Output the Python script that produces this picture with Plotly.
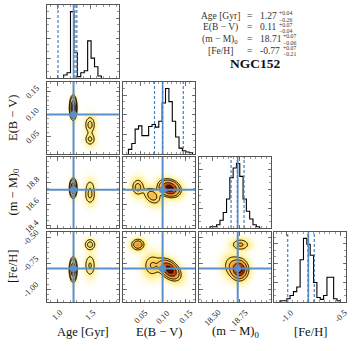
import numpy as np
import plotly.graph_objects as go

W, H = 357, 351

# ---------------- data ----------------
param_labels = ["Age [Gyr]", "E(B − V)", "(m − M)<sub>0</sub>", "[Fe/H]"]
param_ranges = [[0.848, 1.939], [0.012, 0.172], [18.38, 19.04], [-1.121, -0.449]]
truth_values = [1.250, 0.100, 18.735, -0.800]
quantile_values = [
    [1.015, 1.272, 1.300],
    [0.082, 0.100, 0.146],
    [18.674, 18.731, 18.793],
    [-0.993, -0.804, -0.745],
]

# 1-D histograms (relative heights)
age_hist_start, age_hist_width = 1.100, 0.052
age_hist_counts = [0.045, 0.08, 1.0, 0.38, 0.02, 0.08, 0.11, 0.56, 0.30, 0.17, 0.03]
ebv_hist_start, ebv_hist_width = 0.024, 0.0075
ebv_hist_counts = [0.07, 0.16, 0.38, 0.43, 0.28, 0.28, 0.42, 0.45, 0.41, 0.50,
                   0.78, 1.0, 0.80, 0.50, 0.26, 0.09, 0.05, 0.03, 0.02]
dm_hist_start, dm_hist_width = 18.481, 0.0303
dm_hist_counts = [0.02, 0.02, 0.05, 0.12, 0.24, 0.45, 0.78, 0.93, 1.0, 0.80,
                  0.45, 0.26, 0.14, 0.05, 0.02]
feh_hist_start, feh_hist_width = -1.065, 0.0313
feh_hist_counts = [0.02, 0.02, 0.05, 0.10, 0.16, 0.23, 0.65, 0.98, 0.89, 0.72,
                   0.30, 0.07, 0.04, 0.10, 0.38, 0.38, 0.05, 0.02]

# tick labels
age_xticks, age_xticklabels = [1.0, 1.5], ["1.0", "1.5"]
ebv_xticks, ebv_xticklabels = [0.05, 0.10, 0.15], ["0.05", "0.10", "0.15"]
dm_xticks, dm_xticklabels = [18.50, 18.75], ["18.50", "18.75"]
feh_xticks, feh_xticklabels = [-1.0, -0.5], ["-1.0", "-0.5"]
ebv_yticks, ebv_yticklabels = [0.05, 0.10, 0.15], ["0.05", "0.10", "0.15"]
dm_yticks, dm_yticklabels = [18.4, 18.6, 18.8], ["18.4", "18.6", "18.8"]
feh_yticks, feh_yticklabels = [-1.00, -0.75, -0.50], ["-1.00", "-0.75", "-0.50"]

# posterior modes seen in the 2-D panels (age, E(B-V), (m-M)0, [Fe/H])
mode_weight = [0.70, 0.12, 0.18]
mode_age = [1.245, 1.50, 1.50]
mode_age_sd = [0.025, 0.045, 0.045]
mode_ebv = [0.115, 0.045, 0.077]
mode_ebv_sd = [0.012, 0.008, 0.011]
mode_dm = [18.75, 18.76, 18.68]
mode_dm_sd = [0.040, 0.045, 0.045]
mode_feh = [-0.81, -0.57, -0.77]
mode_feh_sd = [0.050, 0.030, 0.060]
mode_corr_ebv_dm = [-0.2, 0.0, -0.3]
mode_corr_ebv_feh = [-0.45, 0.0, 0.0]

# summary text
summary_names = ["Age [Gyr]", "E(B − V)", "(m − M)<sub>0</sub>", "[Fe/H]"]
summary_values = ["1.27", "0.11", "18.71", "-0.77"]
summary_plus = ["+0.04", "+0.07", "+0.07", "+0.07"]
summary_minus = ["−0.26", "−0.04", "−0.06", "−0.21"]
cluster_name = "NGC152"

# ---------------- styling / geometry ----------------
SERIF = "Liberation Serif, DejaVu Serif, serif"
FRAME = "#555555"
TRUTH = "#5b8fc9"
QUANT = "#4a7ebf"
col_px = [(47, 119), (123, 195), (199, 271), (274, 346)]
row_px = [(5, 78), (82, 154), (157, 228), (232, 302)]
minor_dticks = [0.1, 0.01, 0.05, 0.05]

hists = [
    (age_hist_start, age_hist_width, age_hist_counts),
    (ebv_hist_start, ebv_hist_width, ebv_hist_counts),
    (dm_hist_start, dm_hist_width, dm_hist_counts),
    (feh_hist_start, feh_hist_width, feh_hist_counts),
]
xticks = [(age_xticks, age_xticklabels), (ebv_xticks, ebv_xticklabels),
          (dm_xticks, dm_xticklabels), (feh_xticks, feh_xticklabels)]
yticks = [None, (ebv_yticks, ebv_yticklabels), (dm_yticks, dm_yticklabels),
          (feh_yticks, feh_yticklabels)]

means = [mode_age, mode_ebv, mode_dm, mode_feh]
sds = [mode_age_sd, mode_ebv_sd, mode_dm_sd, mode_feh_sd]


def corr(i, j, m):
    pair = tuple(sorted((i, j)))
    if pair == (1, 2):
        return mode_corr_ebv_dm[m]
    if pair == (1, 3):
        return mode_corr_ebv_feh[m]
    return 0.0


def density(ix, iy, gx, gy):
    GX, GY = np.meshgrid(gx, gy)
    Z = np.zeros_like(GX)
    for m in range(len(mode_weight)):
        sx, sy = sds[ix][m], sds[iy][m]
        rho = corr(ix, iy, m)
        u = (GX - means[ix][m]) / sx
        v = (GY - means[iy][m]) / sy
        q = (u * u - 2 * rho * u * v + v * v) / (1 - rho * rho)
        Z += mode_weight[m] / (2 * np.pi * sx * sy * np.sqrt(1 - rho * rho)) * np.exp(-0.5 * q)
    return Z


def mass_levels(Z, fracs):
    flat = np.sort(Z.ravel())[::-1]
    cum = np.cumsum(flat)
    cum /= cum[-1]
    return sorted(flat[min(np.searchsorted(cum, f), len(flat) - 1)] for f in fracs)


LEVEL_FRACS = [1 - np.exp(-0.5 * s * s) for s in (0.5, 1.0, 1.5, 2.0)]
CSCALE = [[0.0, "#ffffff"], [0.04, "#fffbe2"], [0.12, "#fff3a8"], [0.26, "#ffe068"],
          [0.42, "#fbbd45"], [0.56, "#f0902a"], [0.70, "#d65a18"], [0.85, "#8f2806"],
          [1.0, "#300a00"]]


def px(x):
    return x / W


def py(y):
    return 1 - y / H


fig = go.Figure()
shapes, annotations, axes = [], [], {}

panels = [(r, c) for r in range(4) for c in range(r + 1)]
for k, (r, c) in enumerate(panels, start=1):
    xs = "x" if k == 1 else f"x{k}"
    ys = "y" if k == 1 else f"y{k}"
    xname = "xaxis" if k == 1 else f"xaxis{k}"
    yname = "yaxis" if k == 1 else f"yaxis{k}"
    xdom = [px(col_px[c][0]), px(col_px[c][1])]
    ydom = [py(row_px[r][1]), py(row_px[r][0])]

    base = dict(showline=True, linecolor=FRAME, linewidth=1, mirror="allticks",
                ticks="inside", ticklen=3.5, tickwidth=0.8, tickcolor=FRAME,
                showticklabels=False, showgrid=False, zeroline=False, fixedrange=True)
    xax = dict(base, domain=xdom, anchor=ys, range=param_ranges[c],
               tickmode="array", tickvals=xticks[c][0],
               minor=dict(ticks="inside", ticklen=2, tickwidth=0.6, tickcolor=FRAME,
                          dtick=minor_dticks[c], tick0=0))
    if r == c:
        start, width, counts = hists[c]
        edges = [start + width * i for i in range(len(counts) + 1)]
        hx = [edges[0]] + edges
        hy = [0] + list(counts) + [0]
        fig.add_trace(go.Scatter(x=hx, y=hy, mode="lines", line=dict(color="black", width=1.1, shape="hv"),
                                 xaxis=xs, yaxis=ys, hoverinfo="skip", showlegend=False))
        ymax = 1.1 * max(counts)
        yax = dict(base, domain=ydom, anchor=xs, range=[0, ymax], tickmode="array",
                   tickvals=[0.3, 0.6, 0.9],
                   minor=dict(ticks="inside", ticklen=2, tickwidth=0.6, tickcolor=FRAME, dtick=0.1, tick0=0))
        shapes.append(dict(type="line", xref=xs, yref=f"{ys} domain", x0=truth_values[c], x1=truth_values[c],
                           y0=0, y1=1, line=dict(color=TRUTH, width=1.6)))
        for q in quantile_values[c]:
            shapes.append(dict(type="line", xref=xs, yref=f"{ys} domain", x0=q, x1=q, y0=0, y1=1,
                               line=dict(color=QUANT, width=1.2, dash="3px,2px")))
    else:
        gx = np.linspace(param_ranges[c][0], param_ranges[c][1], 120)
        gy = np.linspace(param_ranges[r][0], param_ranges[r][1], 120)
        Z = density(c, r, gx, gy)
        Zn = (Z / Z.max()) ** 0.6
        fig.add_trace(go.Heatmap(x=gx, y=gy, z=Zn, colorscale=CSCALE, zmin=0, zmax=1, zsmooth="best",
                                 showscale=False, hoverinfo="skip", xaxis=xs, yaxis=ys))
        for L in mass_levels(Z, LEVEL_FRACS):
            fig.add_trace(go.Contour(x=gx, y=gy, z=Z, autocontour=False,
                                     contours=dict(start=L, end=L, size=1, coloring="none"),
                                     line=dict(color="black", width=1), showscale=False,
                                     hoverinfo="skip", xaxis=xs, yaxis=ys))
        yax = dict(base, domain=ydom, anchor=xs, range=param_ranges[r], tickmode="array",
                   tickvals=yticks[r][0],
                   minor=dict(ticks="inside", ticklen=2, tickwidth=0.6, tickcolor=FRAME,
                              dtick=minor_dticks[r], tick0=0))
        shapes.append(dict(type="line", xref=xs, yref=f"{ys} domain", x0=truth_values[c], x1=truth_values[c],
                           y0=0, y1=1, line=dict(color=TRUTH, width=2)))
        shapes.append(dict(type="line", xref=f"{xs} domain", yref=ys, y0=truth_values[r], y1=truth_values[r],
                           x0=0, x1=1, line=dict(color=TRUTH, width=2)))
        fig.add_trace(go.Scatter(x=[truth_values[c]], y=[truth_values[r]], mode="markers",
                                 marker=dict(color=TRUTH, size=7), xaxis=xs, yaxis=ys,
                                 hoverinfo="skip", showlegend=False))
        if c == 0:
            for v, t in zip(*yticks[r]):
                annotations.append(dict(text=t, x=px(col_px[0][0] - 3), xref="paper", y=v, yref=ys,
                                        xanchor="right", yanchor="middle", textangle=-45, showarrow=False,
                                        font=dict(family=SERIF, size=8.5, color="#222")))
    if r == 3:
        for v, t in zip(*xticks[c]):
            annotations.append(dict(text=t, x=v, xref=xs, y=py(row_px[3][1] + 3), yref="paper",
                                    xanchor="center", yanchor="top", textangle=-45, showarrow=False,
                                    font=dict(family=SERIF, size=8.5, color="#222")))
    axes[xname] = xax
    axes[yname] = yax

# axis titles
for c in range(4):
    annotations.append(dict(text=param_labels[c], x=px((col_px[c][0] + col_px[c][1]) / 2), y=py(332),
                            xref="paper", yref="paper", xanchor="center", yanchor="middle", showarrow=False,
                            font=dict(family=SERIF, size=12.5, color="#111")))
for r in range(1, 4):
    annotations.append(dict(text=param_labels[r], x=px(13), y=py((row_px[r][0] + row_px[r][1]) / 2),
                            xref="paper", yref="paper", xanchor="center", yanchor="middle", textangle=-90,
                            showarrow=False, font=dict(family=SERIF, size=12.5, color="#111")))

# summary block
line_y = [16, 27.5, 39, 50.5]
val_x = 259
sup_x = [277.5, 277.5, 282, 281.5]
block = []
for i in range(4):
    tf = dict(family=SERIF, size=9.5, color="#333")
    sf = dict(family=SERIF, size=5.8, color="#333")
    block += [
        dict(text=summary_names[i], x=px(220), y=py(line_y[i]), xanchor="center", yanchor="middle", font=tf),
        dict(text="=", x=px(250), y=py(line_y[i]), xanchor="center", yanchor="middle", font=tf),
        dict(text=summary_values[i], x=px(val_x), y=py(line_y[i]), xanchor="left", yanchor="middle", font=tf),
        dict(text=summary_plus[i], x=px(sup_x[i]), y=py(line_y[i] - 2.7), xanchor="left", yanchor="middle", font=sf),
        dict(text=summary_minus[i], x=px(sup_x[i]), y=py(line_y[i] + 3.7), xanchor="left", yanchor="middle", font=sf),
    ]
for a in block:
    a.update(xref="paper", yref="paper", showarrow=False, borderpad=0)
annotations += block
annotations.append(dict(text="<b>" + cluster_name + "</b>", x=px(255), y=py(63), xref="paper", yref="paper",
                        xanchor="center", yanchor="middle", showarrow=False,
                        font=dict(family=SERIF, size=13.5, color="#111")))

fig.update_layout(width=W, height=H, margin=dict(l=0, r=0, t=0, b=0), paper_bgcolor="white",
                  plot_bgcolor="white", showlegend=False, shapes=shapes, annotations=annotations, **axes)
fig.write_html("out.html", config={"displayModeBar": False, "staticPlot": True},
               post_script="document.body.style.margin='0';")
